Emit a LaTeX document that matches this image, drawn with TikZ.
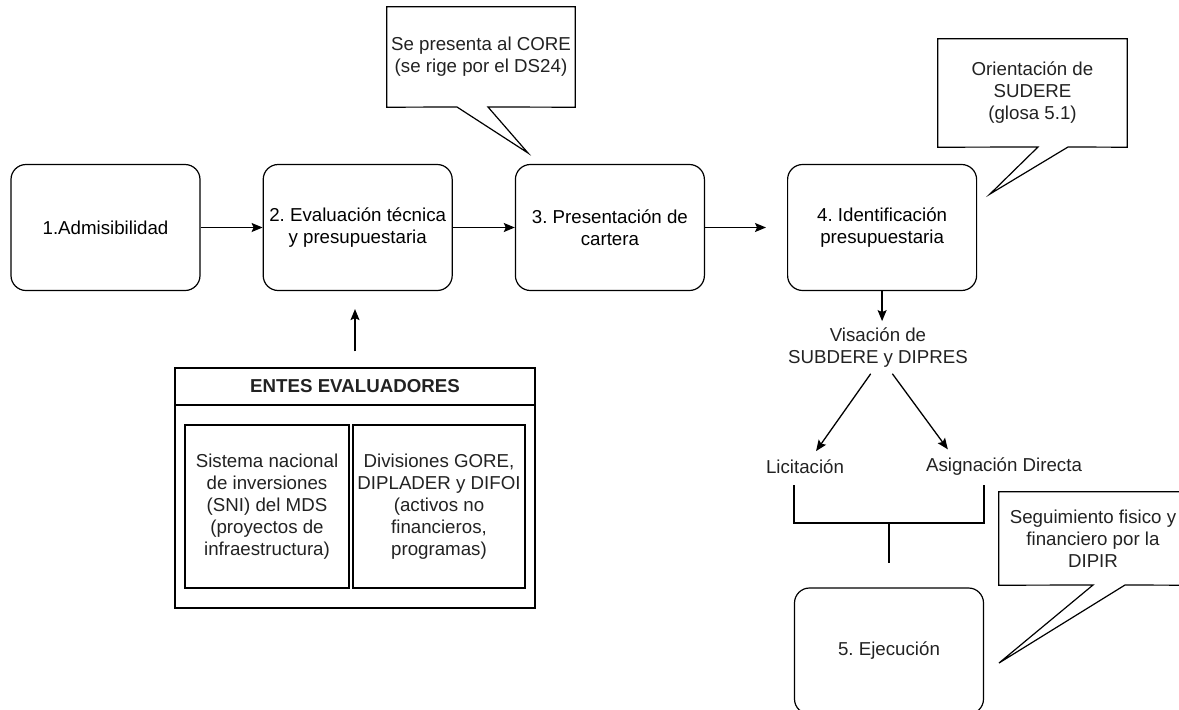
\documentclass[tikz,border=0pt]{standalone}
\usepackage{fontspec}
\setmainfont{Liberation Sans}
\usepackage{tikz}
\usetikzlibrary{arrows.meta,positioning,calc}
\definecolor{inkgray}{HTML}{222222}
\frenchspacing
\tikzset{
  proc/stepbox/.style={draw, rounded corners=15pt, line width=1.2pt, minimum width=189pt, minimum height=126pt, align=center, inner sep=2pt},
  proc/label/.style={align=center, inner sep=3pt, text=inkgray},
  proc/notebox/.style={minimum width=188pt, align=center, inner sep=2pt, text=inkgray},
  proc/noteline/.style={draw, line width=1.2pt, fill=white, line join=miter},
  proc/group/.style={draw, line width=1.2pt, minimum width=360pt},
  proc/inner/.style={draw, line width=1.2pt, minimum height=163pt, align=center, inner sep=2pt, text=inkgray},
  proc/arr/.style={line width=1.3pt, -{Stealth[length=11pt,width=9pt,inset=2pt]}},
  proc/bracket/.style={line width=2.6pt}
}
\begin{document}
\begin{tikzpicture}[x=1pt, y=-1pt, node distance=62pt,
  every node/.style={font=\fontsize{18.7}{22}\selectfont}]
  \useasboundingbox (0,0) rectangle (1179,710);

  % main flow
  \node[proc/stepbox] (admis) at (105.5,227.5) {1.Admisibilidad};
  \node[proc/stepbox, right=of admis] (evalua) {2. Evaluación técnica\\y presupuestaria};
  \node[proc/stepbox, right=of evalua] (cartera) {3. Presentación de\\cartera};
  \node[proc/stepbox, right=82pt of cartera] (identif) {4. Identificación\\presupuestaria};

  \draw[proc/arr] (admis) -- (evalua);
  \draw[proc/arr] (evalua) -- (cartera);
  \draw[proc/arr, shorten >=21pt] (cartera) -- (identif);

  % evaluating bodies
  \node[proc/group, minimum height=240pt] (entes) at (355,488) {};
  \node[proc/group, minimum height=37pt, anchor=north, font=\fontsize{18.7}{22}\selectfont\bfseries, text=inkgray] (entesHead) at (entes.north) {ENTES EVALUADORES};
  \node[proc/inner, minimum width=164pt] (sni) at (267,506.5) {Sistema nacional\\de inversiones\\(SNI) del MDS\\(proyectos de\\infraestructura)};
  \node[proc/inner, minimum width=172pt] (gore) at (439,506.5) {Divisiones GORE,\\DIPLADER y DIFOI\\(activos no\\financieros,\\programas)};
  \draw[proc/arr, shorten <=16pt, shorten >=18pt] (entes.north) -- (entes.north |- evalua.south);

  % approval and contracting
  \node[proc/label] (visacion) at (878,347.5) {Visación de\\SUBDERE y DIPRES};
  \node[proc/label] (licit) at (805,467) {Licitación};
  \node[proc/label] (asign) at (1004,467) {Asignación Directa};
  \draw[proc/arr] (identif.south) -- ++(0,30);
  \draw[proc/arr, shorten <=4pt, shorten >=7pt] ([xshift=-5pt]visacion.south) -- ([xshift=7pt]licit.north);
  \draw[proc/arr, shorten <=4pt, shorten >=7pt] ([xshift=12pt]visacion.south) -- ([xshift=-52pt]asign.north);

  \node[proc/stepbox, text=inkgray] (ejec) at (889,651) {5. Ejecución};
  \coordinate (brL) at (ejec.west |- 0,485);
  \coordinate (brR) at (ejec.east |- 0,485);
  \coordinate (brM) at (ejec.north |- 0,523);
  \coordinate (brEnd) at (ejec.north |- 0,563);
  \draw[proc/bracket] (brL) |- (brM) -| (brR);
  \draw[proc/bracket] (brM) -- (brEnd);

  % callouts
  \node[proc/notebox, minimum height=100pt] (noteCore) at (481,57) {};
  \coordinate (coreTip) at (528,153);
  \draw[proc/noteline] (noteCore.north west) -- (noteCore.north east) -- (noteCore.south east)
    -- (488,107) -- (coreTip) -- (457,107) -- (noteCore.south west) -- cycle;
  \node[proc/label] at (noteCore) {Se presenta al CORE\\(se rige por el DS24)};

  \node[proc/notebox, minimum width=189pt, minimum height=108pt] (noteSudere) at (1032.5,93) {};
  \coordinate (sudereTip) at (990,194);
  \draw[proc/noteline] (noteSudere.north west) -- (noteSudere.north east) -- (noteSudere.south east)
    -- (1068,147) -- (sudereTip) -- (1038,147) -- (noteSudere.south west) -- cycle;
  \node[proc/label] at (noteSudere) {Orientación de\\SUDERE\\(glosa 5.1)};

  \node[proc/notebox, minimum height=93pt] (noteDipir) at (1093,538.5) {};
  \coordinate (dipirTip) at (999,663);
  \draw[proc/noteline] (noteDipir.north west) -- (noteDipir.north east) -- (noteDipir.south east)
    -- (1125,585) -- (dipirTip) -- (1093,585) -- (noteDipir.south west) -- cycle;
  \node[proc/label] at (noteDipir) {Seguimiento fisico y\\financiero por la\\DIPIR};
\end{tikzpicture}
\end{document}
